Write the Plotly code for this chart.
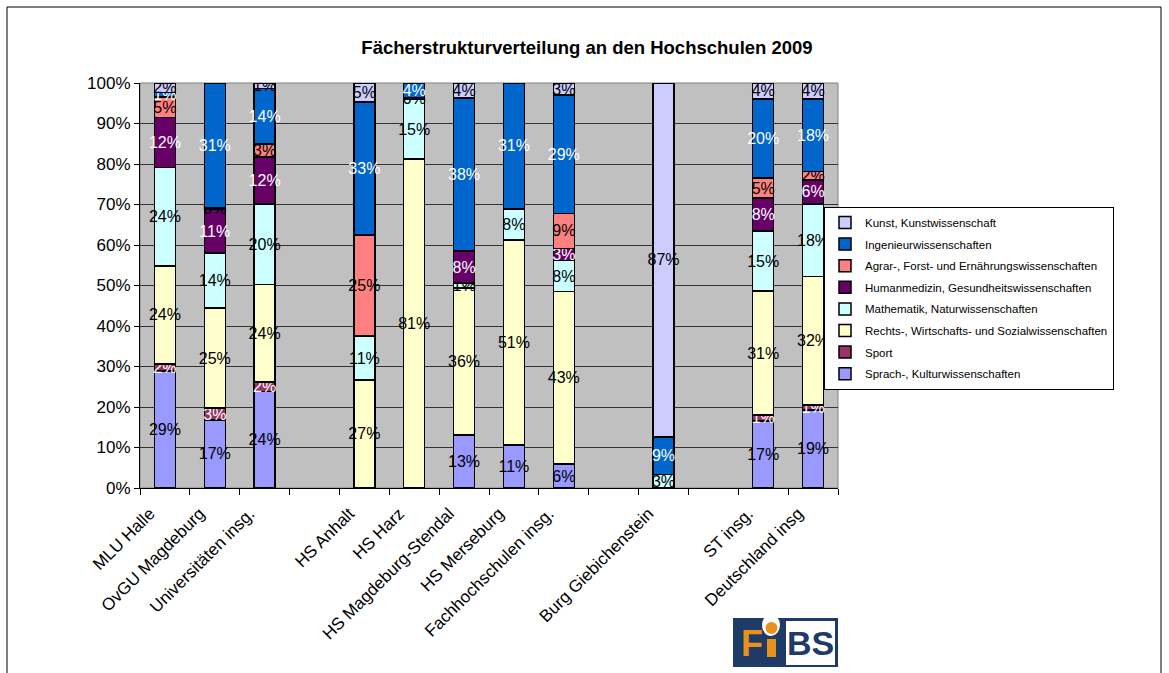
import plotly.graph_objects as go

# ---------------- data ----------------
categories = ["MLU Halle", "OvGU Magdeburg", "Universitäten insg.", " ",
              "HS Anhalt", "HS Harz", "HS Magdeburg-Stendal", "HS Merseburg",
              "Fachhochschulen insg.", "  ", "Burg Giebichenstein", "   ",
              "ST insg.", "Deutschland insg"]

sprach    = [28.9, 16.8, 23.7, None, None, None, 13.1, 10.6, 5.9, None, None, None, 16.6, 19.3]
sport     = [1.7, 2.9, 2.4, None, None, None, None, None, None, None, 0.1, None, 1.4, 1.2]
rechts    = [24.2, 24.7, 23.9, None, 26.7, 81.2, 36.3, 50.6, 42.7, None, None, None, 30.6, 31.7]
mathe     = [24.2, 13.6, 19.8, None, 10.8, 14.8, 1.2, 7.7, 7.7, None, 3.2, None, 14.8, 17.9]
humanmed  = [12.4, 10.9, 11.6, None, None, None, 7.9, None, 3.0, None, None, None, 8.2, 6.0]
agrar     = [5.1, 0.3, 3.2, None, 25.0, 0.3, None, None, 8.6, None, None, None, 4.9, 2.0]
ingenieur = [1.0, 30.8, 13.6, None, 32.8, 3.7, 37.8, 31.1, 29.3, None, 9.3, None, 19.6, 18.0]
kunst     = [2.4, None, 1.4, None, 4.7, None, 3.7, None, 3.0, None, 87.4, None, 3.9, 3.9]

series_names = ["Sprach-, Kulturwissenschaften", "Sport",
                "Rechts-, Wirtschafts- und Sozialwissenschaften",
                "Mathematik, Naturwissenschaften",
                "Humanmedizin, Gesundheitswissenschaften",
                "Agrar-, Forst- und Ernährungswissenschaften",
                "Ingenieurwissenschaften", "Kunst, Kunstwissenschaft"]
series_values = [sprach, sport, rechts, mathe, humanmed, agrar, ingenieur, kunst]
series_colors = ["#9999FF", "#993366", "#FFFFCC", "#CCFFFF", "#660066",
                 "#FF8080", "#0066CC", "#CCCCFF"]
label_colors = ["black", "white", "black", "black", "white", "black", "white", "black"]

# ---------------- geometry helpers (pixel -> paper) ----------------
PL, PR, PT, PB = 140, 838, 83, 488
W, H = 1169, 673


def px(x):
    return (x - PL) / (PR - PL)


def py(y):
    return (PB - y) / (PB - PT)


fig = go.Figure()
n = len(series_names)
for i, (name, vals, col, lc) in enumerate(zip(series_names, series_values, series_colors, label_colors)):
    fig.add_trace(go.Bar(
        x=categories, y=vals, name=name, legendgroup=name, legendrank=n - i,
        marker=dict(color=col, line=dict(color="black", width=1.5)),
        text=[("" if v is None else f"{v:.0f}%") for v in vals],
        textposition="inside", insidetextanchor="middle", textangle=0,
        constraintext="none",
        textfont=dict(family="Arial", size=16, color=lc),
        hoverinfo="x+y+name",
    ))

shapes = [
    # outer frame
    dict(type="rect", xref="paper", yref="paper", x0=px(7), x1=px(1161), y0=py(7), y1=py(690),
         line=dict(color="black", width=1), fillcolor="rgba(0,0,0,0)", layer="below"),
    # plot area border
    dict(type="rect", xref="paper", yref="paper", x0=0, x1=1, y0=0, y1=1,
         line=dict(color="#808080", width=1), fillcolor="rgba(0,0,0,0)", layer="below"),
    # logo
    dict(type="rect", xref="paper", yref="paper", x0=px(733), x1=px(838), y0=py(667), y1=py(618),
         line=dict(width=0), fillcolor="#1E3A66", layer="above"),
    dict(type="rect", xref="paper", yref="paper", x0=px(786), x1=px(835), y0=py(665), y1=py(621),
         line=dict(width=0), fillcolor="white", layer="above"),
    dict(type="circle", xref="paper", yref="paper", x0=px(762), x1=px(780), y0=py(636), y1=py(614),
         line=dict(width=0), fillcolor="white", layer="above"),
    dict(type="circle", xref="paper", yref="paper", x0=px(765.5), x1=px(777.5), y0=py(634), y1=py(622),
         line=dict(width=0), fillcolor="#E8921E", layer="above"),
    dict(type="rect", xref="paper", yref="paper", x0=px(767), x1=px(776), y0=py(657), y1=py(639),
         line=dict(width=0), fillcolor="#E8921E", layer="above"),
]

annotations = [
    dict(text="<b>F</b>", xref="paper", yref="paper", x=px(752), y=py(643), showarrow=False,
         font=dict(family="Arial", size=36, color="#E8921E"), xanchor="center", yanchor="middle"),
    dict(text="<b>BS</b>", xref="paper", yref="paper", x=px(810), y=py(643), showarrow=False,
         font=dict(family="Arial", size=34, color="#1E3A66"), xanchor="center", yanchor="middle"),
]

fig.update_layout(
    width=W, height=H,
    barmode="stack", barnorm="percent", bargap=0.58,
    paper_bgcolor="white", plot_bgcolor="#C0C0C0",
    font=dict(family="Arial", color="black"),
    margin=dict(l=PL, r=W - PR, t=PT, b=H - PB, autoexpand=False),
    title=dict(text="<b>Fächerstrukturverteilung an den Hochschulen 2009</b>",
               x=587 / W, xref="container", xanchor="center",
               y=1 - 48 / H, yref="container", yanchor="middle",
               font=dict(family="Arial", size=18.5, color="black")),
    xaxis=dict(type="category", categoryorder="array", categoryarray=categories,
               tickangle=-45, tickson="boundaries", ticks="outside", ticklen=6,
               tickcolor="black", showline=True, linecolor="black", linewidth=1,
               showgrid=False, automargin=False,
               ticklabelshift=-15, ticklabelstandoff=8,
               tickfont=dict(family="Arial", size=17, color="black")),
    yaxis=dict(range=[0, 100], dtick=10, ticksuffix="%", ticks="outside", ticklen=5,
               tickcolor="black", showline=True, linecolor="black", linewidth=1,
               showgrid=True, gridcolor="#333333", gridwidth=1, zeroline=False,
               automargin=False,
               tickfont=dict(family="Arial", size=17, color="black")),
    legend=dict(x=px(824), y=py(207), xanchor="left", yanchor="top",
                traceorder="grouped", tracegroupgap=2.6, itemwidth=30,
                bgcolor="white", bordercolor="black", borderwidth=1,
                font=dict(family="Arial", size=11.5, color="black")),
    shapes=shapes, annotations=annotations,
)

fig.write_html("out.html", config={"displayModeBar": False},
               post_script="document.body.style.margin='0px';")
